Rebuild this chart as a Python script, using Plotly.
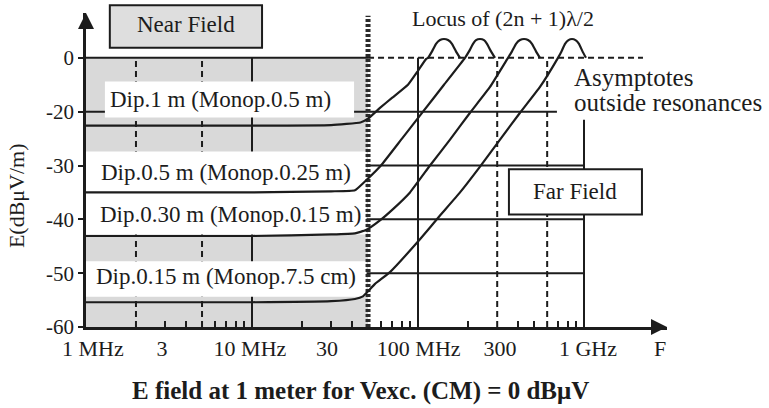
import numpy as np
import plotly.graph_objects as go

# ---------------- data (frequency in MHz, level in dB on the drawn scale;
# the tick labelled "0" sits one grid step above "-20") ----------------
dip100_f = [1, 10, 30, 45, 50, 59, 70, 87, 100, 112, 114.9, 121.5, 128.4, 135.7, 143.4, 151.6, 160.2, 169.3, 179.1]
dip100_e = [-22.6, -22.6, -22.5, -22.0, -21.3, -19.3, -17.4, -15.0, -12.4, -10.2, -10.0, -8.8, -7.4, -6.7, -6.5, -6.7, -7.4, -8.8, -10.0]

dip50_f = [1, 10, 30, 41.7, 49.3, 59.8, 80.1, 107.2, 143.4, 191.9, 202.9, 214.5, 223.6, 236.4, 249.9, 260.5, 275.4, 291.1]
dip50_e = [-35.0, -35.0, -34.8, -34.6, -32.6, -30.0, -25.0, -20.0, -15.0, -10.0, -8.8, -7.4, -6.7, -6.5, -6.7, -7.4, -8.8, -10.0]

dip30_f = [1, 10, 30, 41.7, 48.6, 59.0, 70.7, 89.5, 118.1, 155.9, 205.8, 271.5, 348.5, 368.4, 389.5, 411.7, 435.2, 460.0, 486.0, 513.8, 543.1]
dip30_e = [-43.1, -43.1, -42.8, -42.6, -42.0, -40.2, -38.1, -35.0, -30.0, -25.2, -20.2, -15.4, -10.0, -8.8, -7.4, -6.7, -6.5, -6.7, -7.4, -8.8, -10.0]

dip15_f = [1, 10, 30, 41.7, 46.6, 55.1, 67.8, 102.8, 135.7, 179.1, 236.4, 311.9, 411.7, 543.1, 697.0, 731.7, 768.5, 806.6, 846.7, 888.9, 933.0, 979.4, 1028]
dip15_e = [-55.4, -55.4, -55.2, -54.8, -54.3, -52.0, -49.8, -43.7, -39.3, -35.0, -30.2, -25.2, -20.2, -15.4, -10.0, -8.8, -7.4, -6.7, -6.5, -6.7, -7.4, -8.8, -10.0]

curve_labels = ["Dip.1 m (Monop.0.5 m)", "Dip.0.5 m (Monop.0.25 m)",
                "Dip.0.30 m (Monop.0.15 m)", "Dip.0.15 m (Monop.7.5 cm)"]
label_f = [6.5, 6.96, 7.37, 6.97]
label_e = [-17.8, -31.3, -39.1, -50.7]

xtick_pos = [1.1, 2.87, 9.72, 28.3, 101, 312, 1057, 2870]
xtick_text = ["1 MHz", "3", "10 MHz", "30", "100 MHz", "300", "1 GHz", "F"]
xminor = [3, 4, 6, 7, 8, 9, 20, 30, 40, 60, 70, 80, 90, 200, 400, 500, 700, 800, 900]

ytick_pos = [-10, -20, -30, -40, -50, -60]
ytick_text = ["0", "-20", "-30", "-40", "-50", "-60"]

near_far_boundary = 50      # MHz
asym_end = 2266

FONT = "Liberation Serif, Times New Roman, serif"
INK = "#1c1c1c"

fig = go.Figure()

shapes = []
# near-field gray zone
shapes.append(dict(type="rect", xref="x", yref="y", x0=1, x1=near_far_boundary, y0=-60, y1=-10,
                   fillcolor="#d9d9d9", line=dict(width=0), layer="below"))
# grid lines
def hline(y, x0, x1, dash="solid"):
    shapes.append(dict(type="line", xref="x", yref="y", x0=x0, x1=x1, y0=y, y1=y,
                       line=dict(color=INK, width=2, dash=dash), layer="below"))
def vline(x, y0, y1, dash="solid"):
    shapes.append(dict(type="line", xref="x", yref="y", x0=x, x1=x, y0=y0, y1=y1,
                       line=dict(color=INK, width=2, dash=dash), layer="below"))

hline(-10, 1, near_far_boundary)
hline(-10, near_far_boundary, asym_end, dash="6px,4px")
hline(-20, 1, 687)
hline(-30, 1, 1000)
hline(-40, 1, 1000)
hline(-50, 1, 1000)
vline(2, -60, -10, dash="6px,4px")
vline(5, -60, -10, dash="6px,4px")
vline(10, -60, -10)
vline(100, -60, -10)
vline(300, -60, -10, dash="6px,4px")
vline(600, -60, -10, dash="6px,4px")
vline(1000, -60, -21.5)

# white label bands in the near field
shapes.append(dict(type="rect", xref="x", yref="y", x0=1.30, x1=41.2, y0=-21.1, y1=-14.4,
                   fillcolor="white", line=dict(width=0), layer="below"))
shapes.append(dict(type="rect", xref="x", yref="y", x0=1, x1=49, y0=-42.8, y1=-27.4,
                   fillcolor="white", line=dict(width=0), layer="below"))
shapes.append(dict(type="rect", xref="x", yref="y", x0=1, x1=49, y0=-54.4, y1=-47.8,
                   fillcolor="white", line=dict(width=0), layer="below"))
# far field box
shapes.append(dict(type="rect", xref="x", yref="y", x0=353, x1=2234, y0=-39.1, y1=-30.7,
                   fillcolor="white", line=dict(color=INK, width=2), layer="below"))
# hatched near/far boundary
shapes.append(dict(type="line", xref="x", yref="y", x0=near_far_boundary, x1=near_far_boundary,
                   y0=-60, y1=-2.2, line=dict(color="#2a2a2a", width=5, dash="3px,2px"), layer="below"))
# near field box (above the plot)
shapes.append(dict(type="rect", xref="paper", yref="paper", x0=0.041, x1=0.303, y0=0.889, y1=1.025,
                   fillcolor="#dedede", line=dict(color=INK, width=2), layer="below"))

for f, e in [(dip100_f, dip100_e), (dip50_f, dip50_e), (dip30_f, dip30_e), (dip15_f, dip15_e)]:
    fig.add_trace(go.Scatter(x=f, y=e, mode="lines",
                             line=dict(color=INK, width=2.2, shape="spline", smoothing=0.35),
                             showlegend=False, hoverinfo="skip"))

def txt(**kw):
    d = dict(showarrow=False, xanchor="center", yanchor="middle")
    d.update(kw)
    return d

ann = []
for t, f, e in zip(curve_labels, label_f, label_e):
    ann.append(txt(x=np.log10(f), y=e, xref="x", yref="y", text=t,
                   font=dict(family=FONT, size=23, color=INK)))
ann.append(txt(x=0.172, y=0.962, xref="paper", yref="paper", text="Near Field",
               font=dict(family=FONT, size=23, color=INK)))
ann.append(txt(x=0.718, y=0.984, xref="paper", yref="paper", text="Locus of (2n + 1)λ/2",
               font=dict(family=FONT, size=22, color=INK)))
ann.append(txt(x=np.log10(850), y=-13.7, xref="x", yref="y", text="Asymptotes", xanchor="left",
               font=dict(family=FONT, size=25, color=INK)))
ann.append(txt(x=np.log10(850), y=-18.3, xref="x", yref="y", text="outside resonances", xanchor="left",
               font=dict(family=FONT, size=25, color=INK)))
ann.append(txt(x=np.log10(883), y=-34.8, xref="x", yref="y", text="Far Field",
               font=dict(family=FONT, size=23, color=INK)))
ann.append(txt(x=-0.1205, y=0.42, xref="paper", yref="paper", text="E(dBμV/m)", textangle=-90,
               font=dict(family=FONT, size=22, color=INK)))
ann.append(txt(x=0.473, y=-0.204, xref="paper", yref="paper",
               text="<b>E field at 1 meter for Vexc. (CM) = 0 dBμV</b>",
               font=dict(family=FONT, size=25, color=INK)))
# axis arrows
ann.append(dict(x=1, y=0, xref="paper", yref="paper", ax=-16, ay=0, text="", showarrow=True,
                arrowhead=2, arrowsize=1.6, arrowwidth=2, arrowcolor=INK, standoff=0))
ann.append(dict(x=0, y=1, xref="paper", yref="paper", ax=0, ay=16, text="", showarrow=True,
                arrowhead=2, arrowsize=1.6, arrowwidth=2, arrowcolor=INK, standoff=0))

fig.update_layout(
    width=769, height=408, autosize=False,
    margin=dict(l=86, r=102, t=13, b=81),
    paper_bgcolor="white", plot_bgcolor="white",
    shapes=shapes, annotations=ann,
    xaxis=dict(type="log", range=[0, 3.5], showgrid=False, zeroline=False,
               showline=True, linecolor=INK, linewidth=2.5, ticks="",
               tickmode="array", tickvals=xtick_pos, ticktext=xtick_text,
               tickfont=dict(family=FONT, size=22, color=INK),
               minor=dict(tickmode="array", tickvals=xminor, ticks="inside", ticklen=6,
                          tickwidth=2, tickcolor=INK, showgrid=False)),
    yaxis=dict(range=[-60, -1.67], showgrid=False, zeroline=False,
               showline=True, linecolor=INK, linewidth=2.5,
               tickmode="array", tickvals=ytick_pos, ticktext=ytick_text,
               ticks="outside", ticklen=5, tickwidth=2, tickcolor=INK,
               tickfont=dict(family=FONT, size=21, color=INK)),
)

fig.write_html("out.html")
